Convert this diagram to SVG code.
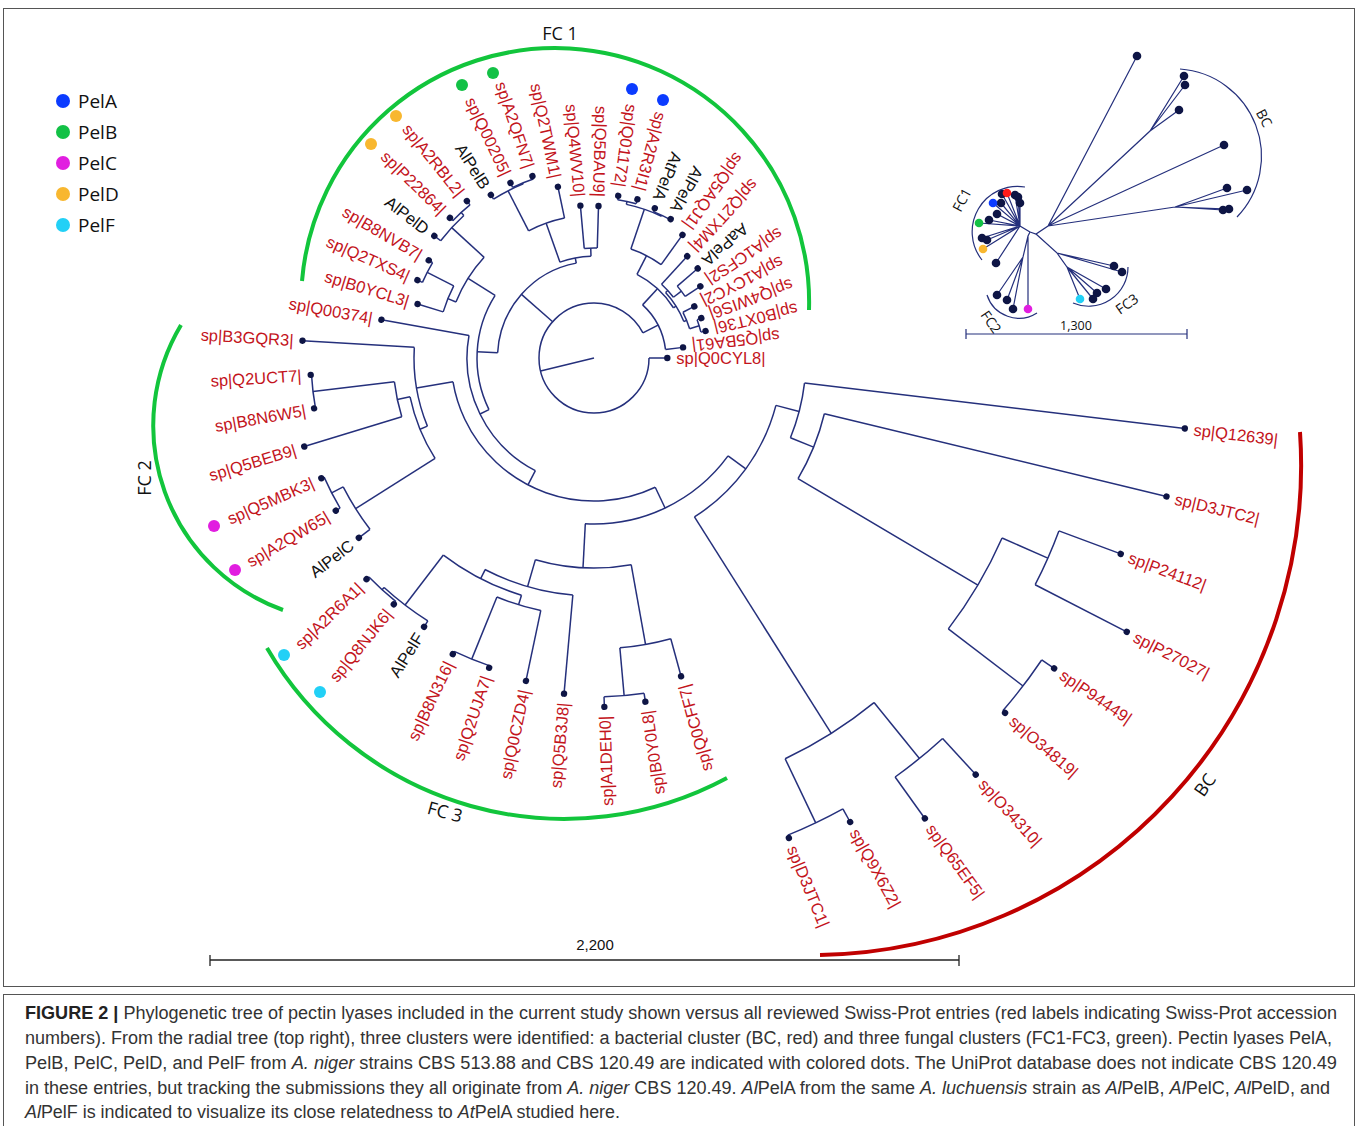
<svg xmlns="http://www.w3.org/2000/svg" width="1358" height="1126" viewBox="0 0 1358 1126">
<style>
.c line,.c circle{stroke:#25307c;stroke-width:1.5;fill:none}
.d{fill:#0e1545}
.t{font-family:"Liberation Sans",Arial,sans-serif;font-size:16.5px;fill:#c3141c}
.k{fill:#111}
.e{text-anchor:end}
.lg{font-family:"Open Sans","Liberation Sans",sans-serif;font-size:19px;fill:#111}
.fc{font-family:"Open Sans","Liberation Sans",sans-serif;font-size:18px;fill:#111;text-anchor:middle}
.ins path{stroke:#25307c;stroke-width:1.2;fill:none}
.cap{font-family:"Liberation Sans",Arial,sans-serif;font-size:17.6px;fill:#333}
</style>
<rect width="1358" height="1126" fill="#fff"/>
<rect x="3.5" y="8.5" width="1351" height="978" fill="none" stroke="#555"/>
<rect x="3.5" y="994.5" width="1351" height="140" fill="none" stroke="#555"/>

<g id="legend">
<circle cx="63" cy="101" r="7" fill="#0b3bff"/><text class="lg" x="78" y="108">PelA</text>
<circle cx="63" cy="132" r="7" fill="#13c146"/><text class="lg" x="78" y="139">PelB</text>
<circle cx="63" cy="163" r="7" fill="#e11ee0"/><text class="lg" x="78" y="170">PelC</text>
<circle cx="63" cy="194" r="7" fill="#f8b72f"/><text class="lg" x="78" y="201">PelD</text>
<circle cx="63" cy="225" r="7" fill="#22d0f6"/><text class="lg" x="78" y="232">PelF</text>
</g>

<g id="clusters" fill="none" stroke-width="4">
<path d="M302 281 A254 254 0 0 1 809 310" stroke="#12c53c"/>
<path d="M181 325 A196 196 0 0 0 283 610" stroke="#12c53c"/>
<path d="M267 648 A344 344 0 0 0 727 778" stroke="#12c53c"/>
<path d="M1300 432 A490 490 0 0 1 820 955" stroke="#c00000"/>
</g>
<text class="fc" x="560" y="40">FC 1</text>
<text class="fc" transform="translate(145,478) rotate(-90)" dy=".35em">FC 2</text>
<text class="fc" transform="translate(445,812) rotate(15)" dy=".35em">FC 3</text>
<text class="fc" transform="translate(1205,785) rotate(-55)" dy=".35em">BC</text>

<g id="connectors" class="c" transform="translate(594,358)">
<circle r="55" pathLength="360" stroke-dasharray="332.8 400"/>
<circle r="72" pathLength="360" stroke-dasharray="40.75 400" transform="rotate(312.45)"/>
<circle r="94" pathLength="360" stroke-dasharray="30.5 400" transform="rotate(297.2)"/>
<circle r="115" pathLength="360" stroke-dasharray="17 400" transform="rotate(288.7)"/>
<circle r="157" pathLength="360" stroke-dasharray="13.6 400" transform="rotate(281.9)"/>
<circle r="160" pathLength="360" stroke-dasharray="6.8 400" transform="rotate(278.5)"/>
<circle r="158" pathLength="360" stroke-dasharray="6.8 400" transform="rotate(292.1)"/>
<circle r="97" pathLength="360" stroke-dasharray="20.35 400" transform="rotate(317.55)"/>
<circle r="100" pathLength="360" stroke-dasharray="10.1 400" transform="rotate(312.5)"/>
<circle r="110" pathLength="360" stroke-dasharray="6.8 400" transform="rotate(319.2)"/>
<circle r="100" pathLength="360" stroke-dasharray="10.2 400" transform="rotate(332.8)"/>
<circle r="110" pathLength="360" stroke-dasharray="6.8 400" transform="rotate(339.6)"/>
<circle r="96.5" pathLength="360" stroke-dasharray="76.3 400" transform="rotate(183.1)"/>
<circle r="117" pathLength="360" stroke-dasharray="58.45 400" transform="rotate(153.85)"/>
<circle r="127" pathLength="360" stroke-dasharray="72.7 400" transform="rotate(117.5)"/>
<circle r="143" pathLength="360" stroke-dasharray="105.75 400" transform="rotate(64.65)"/>
<circle r="166" pathLength="360" stroke-dasharray="56.95 400" transform="rotate(36.15)"/>
<circle r="188" pathLength="360" stroke-dasharray="43.1 400" transform="rotate(14.6)"/>
<circle r="212" pathLength="360" stroke-dasharray="15.3 400" transform="rotate(6.8)"/>
<circle r="237" pathLength="360" stroke-dasharray="17 400" transform="rotate(13.6)"/>
<circle r="446" pathLength="360" stroke-dasharray="13.6 400" transform="rotate(23.8)"/>
<circle r="496" pathLength="360" stroke-dasharray="6.8 400" transform="rotate(20.4)"/>
<circle r="540" pathLength="360" stroke-dasharray="6.8 400" transform="rotate(34)"/>
<circle r="444" pathLength="360" stroke-dasharray="13.6 400" transform="rotate(50.9)"/>
<circle r="516" pathLength="360" stroke-dasharray="6.8 400" transform="rotate(47.5)"/>
<circle r="515" pathLength="360" stroke-dasharray="6.8 400" transform="rotate(61.1)"/>
<circle r="210" pathLength="360" stroke-dasharray="26.4 400" transform="rotate(79.8)"/>
<circle r="291" pathLength="360" stroke-dasharray="10.2 400" transform="rotate(74.7)"/>
<circle r="339" pathLength="360" stroke-dasharray="6.8 400" transform="rotate(81.5)"/>
<circle r="238" pathLength="360" stroke-dasharray="22.2 400" transform="rotate(95.1)"/>
<circle r="248" pathLength="360" stroke-dasharray="20.4 400" transform="rotate(107)"/>
<circle r="258" pathLength="360" stroke-dasharray="10.2 400" transform="rotate(101.9)"/>
<circle r="325" pathLength="360" stroke-dasharray="6.8 400" transform="rotate(108.7)"/>
<circle r="311" pathLength="360" stroke-dasharray="10.15 400" transform="rotate(122.3)"/>
<circle r="314" pathLength="360" stroke-dasharray="6.7 400" transform="rotate(129.1)"/>
<circle r="180" pathLength="360" stroke-dasharray="25.65 400" transform="rotate(157.75)"/>
<circle r="188" pathLength="360" stroke-dasharray="20.4 400" transform="rotate(147.7)"/>
<circle r="282" pathLength="360" stroke-dasharray="10.2 400" transform="rotate(142.6)"/>
<circle r="295" pathLength="360" stroke-dasharray="6.8 400" transform="rotate(149.4)"/>
<circle r="201" pathLength="360" stroke-dasharray="10.2 400" transform="rotate(163)"/>
<circle r="283" pathLength="360" stroke-dasharray="6.8 400" transform="rotate(169.8)"/>
<circle r="149" pathLength="360" stroke-dasharray="20.4 400" transform="rotate(202.1)"/>
<circle r="157.7" pathLength="360" stroke-dasharray="10.2 400" transform="rotate(197)"/>
<circle r="187.5" pathLength="360" stroke-dasharray="6.8 400" transform="rotate(203.8)"/>
<circle r="193" pathLength="360" stroke-dasharray="10.2 400" transform="rotate(217.4)"/>
<circle r="197" pathLength="360" stroke-dasharray="6.8 400" transform="rotate(224.2)"/>
<circle r="101.7" pathLength="360" stroke-dasharray="17.85 400" transform="rotate(250.45)"/>
<circle r="143" pathLength="360" stroke-dasharray="15.3 400" transform="rotate(242.8)"/>
<circle r="188" pathLength="360" stroke-dasharray="10.2 400" transform="rotate(237.7)"/>
<circle r="189" pathLength="360" stroke-dasharray="6.8 400" transform="rotate(244.5)"/>
<circle r="110" pathLength="360" stroke-dasharray="6.8 400" transform="rotate(264.9)"/>

<line x1="0" x2="55" transform="rotate(166.4)"/>
<line x1="55" x2="73.3"/>
<line x1="55" x2="96.5" transform="rotate(221.25)"/>
<line x1="55" x2="72" transform="rotate(332.8)"/>
<line x1="72" x2="94" transform="rotate(312.45)"/>
<line x1="72" x2="89.7" transform="rotate(353.2)"/>
<line x1="94" x2="115" transform="rotate(297.2)"/>
<line x1="94" x2="97" transform="rotate(327.7)"/>
<line x1="115" x2="157" transform="rotate(288.7)"/>
<line x1="115" x2="151.6" transform="rotate(305.7)"/>
<line x1="157" x2="160" transform="rotate(281.9)"/>
<line x1="157" x2="158" transform="rotate(295.5)"/>
<line x1="160" x2="164" transform="rotate(278.5)"/>
<line x1="160" x2="164.5" transform="rotate(285.3)"/>
<line x1="158" x2="161.6" transform="rotate(292.1)"/>
<line x1="158" x2="158.6" transform="rotate(298.9)"/>
<line x1="97" x2="100" transform="rotate(317.55)"/>
<line x1="97" x2="100" transform="rotate(337.9)"/>
<line x1="100" x2="138" transform="rotate(312.5)"/>
<line x1="100" x2="110" transform="rotate(322.6)"/>
<line x1="110" x2="137" transform="rotate(319.2)"/>
<line x1="110" x2="128.3" transform="rotate(326)"/>
<line x1="100" x2="112.8" transform="rotate(332.8)"/>
<line x1="100" x2="110" transform="rotate(343)"/>
<line x1="110" x2="114.5" transform="rotate(339.6)"/>
<line x1="110" x2="114.8" transform="rotate(346.4)"/>
<line x1="96.5" x2="117" transform="rotate(183.1)"/>
<line x1="96.5" x2="101.7" transform="rotate(259.4)"/>
<line x1="117" x2="127" transform="rotate(153.85)"/>
<line x1="117" x2="149" transform="rotate(212.3)"/>
<line x1="127" x2="143" transform="rotate(117.5)"/>
<line x1="127" x2="216" transform="rotate(190.2)"/>
<line x1="143" x2="166" transform="rotate(64.65)"/>
<line x1="143" x2="180" transform="rotate(170.4)"/>
<line x1="166" x2="188" transform="rotate(36.15)"/>
<line x1="166" x2="210" transform="rotate(93)"/>
<line x1="188" x2="212" transform="rotate(14.6)"/>
<line x1="188" x2="444" transform="rotate(57.7)"/>
<line x1="212" x2="595" transform="rotate(6.8)"/>
<line x1="212" x2="237" transform="rotate(22.1)"/>
<line x1="237" x2="589" transform="rotate(13.6)"/>
<line x1="237" x2="446" transform="rotate(30.6)"/>
<line x1="446" x2="496" transform="rotate(23.8)"/>
<line x1="446" x2="540" transform="rotate(37.4)"/>
<line x1="496" x2="562" transform="rotate(20.4)"/>
<line x1="496" x2="599" transform="rotate(27.2)"/>
<line x1="540" x2="555" transform="rotate(34)"/>
<line x1="540" x2="543" transform="rotate(40.8)"/>
<line x1="444" x2="516" transform="rotate(50.9)"/>
<line x1="444" x2="515" transform="rotate(64.5)"/>
<line x1="516" x2="565" transform="rotate(47.5)"/>
<line x1="516" x2="567" transform="rotate(54.3)"/>
<line x1="515" x2="530" transform="rotate(61.1)"/>
<line x1="515" x2="518" transform="rotate(67.9)"/>
<line x1="210" x2="291" transform="rotate(79.8)"/>
<line x1="210" x2="238" transform="rotate(106.2)"/>
<line x1="291" x2="330" transform="rotate(74.7)"/>
<line x1="291" x2="339" transform="rotate(84.9)"/>
<line x1="339" x2="347.5" transform="rotate(81.5)"/>
<line x1="339" x2="349" transform="rotate(88.3)"/>
<line x1="238" x2="337" transform="rotate(95.1)"/>
<line x1="238" x2="248" transform="rotate(117.2)"/>
<line x1="248" x2="258" transform="rotate(107)"/>
<line x1="248" x2="311" transform="rotate(127.4)"/>
<line x1="258" x2="330" transform="rotate(101.9)"/>
<line x1="258" x2="325" transform="rotate(112.1)"/>
<line x1="325" x2="327" transform="rotate(108.7)"/>
<line x1="325" x2="328" transform="rotate(115.5)"/>
<line x1="311" x2="318" transform="rotate(122.3)"/>
<line x1="311" x2="314" transform="rotate(132.45)"/>
<line x1="314" x2="317.4" transform="rotate(129.1)"/>
<line x1="314" x2="317.3" transform="rotate(135.8)"/>
<line x1="180" x2="188" transform="rotate(157.75)"/>
<line x1="180" x2="292" transform="rotate(183.4)"/>
<line x1="188" x2="282" transform="rotate(147.7)"/>
<line x1="188" x2="201" transform="rotate(168.1)"/>
<line x1="282" x2="296" transform="rotate(142.6)"/>
<line x1="282" x2="295" transform="rotate(152.8)"/>
<line x1="295" x2="300" transform="rotate(149.4)"/>
<line x1="295" x2="298" transform="rotate(156.2)"/>
<line x1="201" x2="303" transform="rotate(163)"/>
<line x1="201" x2="283" transform="rotate(173.2)"/>
<line x1="283" x2="284.4" transform="rotate(169.8)"/>
<line x1="283" x2="283.8" transform="rotate(176.6)"/>
<line x1="149" x2="157.7" transform="rotate(202.1)"/>
<line x1="149" x2="193" transform="rotate(222.5)"/>
<line x1="157.7" x2="184.5" transform="rotate(197)"/>
<line x1="157.7" x2="187.5" transform="rotate(207.2)"/>
<line x1="187.5" x2="193" transform="rotate(203.8)"/>
<line x1="187.5" x2="192" transform="rotate(210.6)"/>
<line x1="193" x2="201" transform="rotate(217.4)"/>
<line x1="193" x2="197" transform="rotate(227.6)"/>
<line x1="197" x2="201" transform="rotate(224.2)"/>
<line x1="197" x2="202" transform="rotate(231)"/>
<line x1="101.7" x2="143" transform="rotate(250.45)"/>
<line x1="101.7" x2="110" transform="rotate(268.3)"/>
<line x1="143" x2="188" transform="rotate(242.8)"/>
<line x1="143" x2="175" transform="rotate(258.1)"/>
<line x1="188" x2="193" transform="rotate(237.7)"/>
<line x1="188" x2="189" transform="rotate(247.9)"/>
<line x1="189" x2="194" transform="rotate(244.5)"/>
<line x1="189" x2="192" transform="rotate(251.3)"/>
<line x1="110" x2="153" transform="rotate(264.9)"/>
<line x1="110" x2="152" transform="rotate(271.7)"/>
</g>

<g id="leaves" transform="translate(594,358)">
<g id="n-Q12639" transform="rotate(6.8)"><circle class="d" cx="595" r="3.2"/><text class="t" x="604" dy=".36em">sp|Q12639|</text></g>
<g id="n-D3JTC2" transform="rotate(13.6)"><circle class="d" cx="589" r="3.2"/><text class="t" x="598" dy=".36em">sp|D3JTC2|</text></g>
<g id="n-P24112" transform="rotate(20.4)"><circle class="d" cx="562" r="3.2"/><text class="t" x="571" dy=".36em">sp|P24112|</text></g>
<g id="n-P27027" transform="rotate(27.2)"><circle class="d" cx="599" r="3.2"/><text class="t" x="608" dy=".36em">sp|P27027|</text></g>
<g id="n-P94449" transform="rotate(34)"><circle class="d" cx="555" r="3.2"/><text class="t" x="564" dy=".36em">sp|P94449|</text></g>
<g id="n-O34819" transform="rotate(40.8)"><circle class="d" cx="543" r="3.2"/><text class="t" x="552" dy=".36em">sp|O34819|</text></g>
<g id="n-O34310" transform="rotate(47.5)"><circle class="d" cx="565" r="3.2"/><text class="t" x="574" dy=".36em">sp|O34310|</text></g>
<g id="n-Q65EF5" transform="rotate(54.3)"><circle class="d" cx="567" r="3.2"/><text class="t" x="576" dy=".36em">sp|Q65EF5|</text></g>
<g id="n-Q9X6Z2" transform="rotate(61.1)"><circle class="d" cx="530" r="3.2"/><text class="t" x="539" dy=".36em">sp|Q9X6Z2|</text></g>
<g id="n-D3JTC1" transform="rotate(67.9)"><circle class="d" cx="518" r="3.2"/><text class="t" x="527" dy=".36em">sp|D3JTC1|</text></g>
<g id="n-Q0CYL8"><circle class="d" cx="73.3" r="3.2"/><text class="t" x="82.3" dy=".36em">sp|Q0CYL8|</text></g>

<g id="n-Q0CFF7"><circle class="d" cx="330" r="3.2" transform="rotate(74.7)"/><text class="t e" x="-339" dy=".36em" transform="rotate(-105.3)">sp|Q0CFF7|</text></g>
<g id="n-B0Y0L8"><circle class="d" cx="347.5" r="3.2" transform="rotate(81.5)"/><text class="t e" x="-356.5" dy=".36em" transform="rotate(-98.5)">sp|B0Y0L8|</text></g>
<g id="n-A1DEH0"><circle class="d" cx="349" r="3.2" transform="rotate(88.3)"/><text class="t e" x="-358" dy=".36em" transform="rotate(-91.7)">sp|A1DEH0|</text></g>
<g id="n-Q5B3J8"><circle class="d" cx="337" r="3.2" transform="rotate(95.1)"/><text class="t e" x="-346" dy=".36em" transform="rotate(-84.9)">sp|Q5B3J8|</text></g>
<g id="n-Q0CZD4"><circle class="d" cx="330" r="3.2" transform="rotate(101.9)"/><text class="t e" x="-339" dy=".36em" transform="rotate(-78.1)">sp|Q0CZD4|</text></g>
<g id="n-Q2UJA7"><circle class="d" cx="327" r="3.2" transform="rotate(108.7)"/><text class="t e" x="-336" dy=".36em" transform="rotate(-71.3)">sp|Q2UJA7|</text></g>
<g id="n-B8N316"><circle class="d" cx="328" r="3.2" transform="rotate(115.5)"/><text class="t e" x="-337" dy=".36em" transform="rotate(-64.5)">sp|B8N316|</text></g>
<g id="n-AlPelF"><circle class="d" cx="318" r="3.2" transform="rotate(122.3)"/><text class="t e k" x="-327" dy=".36em" transform="rotate(-57.7)">AlPelF</text></g>
<g id="n-Q8NJK6"><circle class="d" cx="317.4" r="3.2" transform="rotate(129.1)"/><text class="t e" x="-326" dy=".36em" transform="rotate(-50.9)">sp|Q8NJK6|</text></g>
<g id="n-A2R6A1"><circle class="d" cx="317.3" r="3.2" transform="rotate(135.8)"/><text class="t e" x="-326" dy=".36em" transform="rotate(-44.2)">sp|A2R6A1|</text></g>
<g id="n-AlPelC"><circle class="d" cx="296" r="3.2" transform="rotate(142.6)"/><text class="t e k" x="-305" dy=".36em" transform="rotate(-37.4)">AlPelC</text></g>
<g id="n-A2QW65"><circle class="d" cx="300" r="3.2" transform="rotate(149.4)"/><text class="t e" x="-309" dy=".36em" transform="rotate(-30.6)">sp|A2QW65|</text></g>
<g id="n-Q5MBK3"><circle class="d" cx="298" r="3.2" transform="rotate(156.2)"/><text class="t e" x="-307" dy=".36em" transform="rotate(-23.8)">sp|Q5MBK3|</text></g>
<g id="n-Q5BEB9"><circle class="d" cx="303" r="3.2" transform="rotate(163)"/><text class="t e" x="-312" dy=".36em" transform="rotate(-17)">sp|Q5BEB9|</text></g>
<g id="n-B8N6W5"><circle class="d" cx="284.4" r="3.2" transform="rotate(169.8)"/><text class="t e" x="-293" dy=".36em" transform="rotate(-10.2)">sp|B8N6W5|</text></g>
<g id="n-Q2UCT7"><circle class="d" cx="283.8" r="3.2" transform="rotate(176.6)"/><text class="t e" x="-293" dy=".36em" transform="rotate(-3.4)">sp|Q2UCT7|</text></g>
<g id="n-B3GQR3"><circle class="d" cx="292" r="3.2" transform="rotate(183.4)"/><text class="t e" x="-301" dy=".36em" transform="rotate(3.4)">sp|B3GQR3|</text></g>
<g id="n-Q00374"><circle class="d" cx="216" r="3.2" transform="rotate(190.2)"/><text class="t e" x="-225" dy=".36em" transform="rotate(10.2)">sp|Q00374|</text></g>
<g id="n-B0YCL3"><circle class="d" cx="184.5" r="3.2" transform="rotate(197)"/><text class="t e" x="-193.5" dy=".36em" transform="rotate(17)">sp|B0YCL3|</text></g>
<g id="n-Q2TXS4"><circle class="d" cx="193" r="3.2" transform="rotate(203.8)"/><text class="t e" x="-202" dy=".36em" transform="rotate(23.8)">sp|Q2TXS4|</text></g>
<g id="n-B8NVB7"><circle class="d" cx="192" r="3.2" transform="rotate(210.6)"/><text class="t e" x="-201" dy=".36em" transform="rotate(30.6)">sp|B8NVB7|</text></g>
<g id="n-AlPelD"><circle class="d" cx="201" r="3.2" transform="rotate(217.4)"/><text class="t e k" x="-210" dy=".36em" transform="rotate(37.4)">AlPelD</text></g>
<g id="n-P22864"><circle class="d" cx="201" r="3.2" transform="rotate(224.2)"/><text class="t e" x="-210" dy=".36em" transform="rotate(44.2)">sp|P22864|</text></g>
<g id="n-A2RBL2"><circle class="d" cx="202" r="3.2" transform="rotate(231)"/><text class="t e" x="-211" dy=".36em" transform="rotate(51)">sp|A2RBL2|</text></g>
<g id="n-AlPelB"><circle class="d" cx="193" r="3.2" transform="rotate(237.7)"/><text class="t e k" x="-202" dy=".36em" transform="rotate(57.7)">AlPelB</text></g>
<g id="n-Q00205"><circle class="d" cx="194" r="3.2" transform="rotate(244.5)"/><text class="t e" x="-203" dy=".36em" transform="rotate(64.5)">sp|Q00205|</text></g>
<g id="n-A2QFN7"><circle class="d" cx="192" r="3.2" transform="rotate(251.3)"/><text class="t e" x="-201" dy=".36em" transform="rotate(71.3)">sp|A2QFN7|</text></g>
<g id="n-Q2TWM1"><circle class="d" cx="175" r="3.2" transform="rotate(258.1)"/><text class="t e" x="-184" dy=".36em" transform="rotate(78.1)">sp|Q2TWM1|</text></g>
<g id="n-Q4WV10"><circle class="d" cx="153" r="3.2" transform="rotate(264.9)"/><text class="t e" x="-162" dy=".36em" transform="rotate(84.9)">sp|Q4WV10|</text></g>
<g id="n-Q5BAU9"><circle class="d" cx="152" r="3.2" transform="rotate(271.7)"/><text class="t e" x="-161" dy=".36em" transform="rotate(91.7)">sp|Q5BAU9|</text></g>
<g id="n-Q01172"><circle class="d" cx="164" r="3.2" transform="rotate(278.5)"/><text class="t e" x="-173" dy=".36em" transform="rotate(98.5)">sp|Q01172|</text></g>
<g id="n-A2R3I1"><circle class="d" cx="164.5" r="3.2" transform="rotate(285.3)"/><text class="t e" x="-173.5" dy=".36em" transform="rotate(105.3)">sp|A2R3I1|</text></g>
<g id="n-AtPelA"><circle class="d" cx="161.6" r="3.2" transform="rotate(292.1)"/><text class="t e k" x="-170.6" dy=".36em" transform="rotate(112.1)">AtPelA</text></g>
<g id="n-AlPelA"><circle class="d" cx="158.6" r="3.2" transform="rotate(298.9)"/><text class="t e k" x="-167.6" dy=".36em" transform="rotate(118.9)">AlPelA</text></g>
<g id="n-Q5AQJ1"><circle class="d" cx="151.6" r="3.2" transform="rotate(305.7)"/><text class="t e" x="-160.6" dy=".36em" transform="rotate(125.7)">sp|Q5AQJ1|</text></g>
<g id="n-Q2TXM4"><circle class="d" cx="138" r="3.2" transform="rotate(312.5)"/><text class="t e" x="-147" dy=".36em" transform="rotate(132.5)">sp|Q2TXM4|</text></g>
<g id="n-AaPelA"><circle class="d" cx="137" r="3.2" transform="rotate(319.2)"/><text class="t e k" x="-146" dy=".36em" transform="rotate(139.2)">AaPelA</text></g>
<g id="n-A1CFS2"><circle class="d" cx="128.3" r="3.2" transform="rotate(326)"/><text class="t e" x="-137.3" dy=".36em" transform="rotate(146)">sp|A1CFS2|</text></g>
<g id="n-A1CYC2"><circle class="d" cx="112.8" r="3.2" transform="rotate(332.8)"/><text class="t e" x="-121.8" dy=".36em" transform="rotate(152.8)">sp|A1CYC2|</text></g>
<g id="n-Q4WIS6"><circle class="d" cx="114.5" r="3.2" transform="rotate(339.6)"/><text class="t e" x="-123.5" dy=".36em" transform="rotate(159.6)">sp|Q4WIS6|</text></g>
<g id="n-B0XT36"><circle class="d" cx="114.8" r="3.2" transform="rotate(346.4)"/><text class="t e" x="-123.8" dy=".36em" transform="rotate(166.4)">sp|B0XT36|</text></g>
<g id="n-Q5BA61"><circle class="d" cx="89.7" r="3.2" transform="rotate(353.2)"/><text class="t e" x="-98.7" dy=".36em" transform="rotate(173.2)">sp|Q5BA61|</text></g>
</g>

<g id="marks">
<circle cx="632" cy="89" r="6" fill="#0b3bff"/><circle cx="663" cy="100" r="6" fill="#0b3bff"/>
<circle cx="462" cy="85" r="6" fill="#13c146"/><circle cx="493" cy="73" r="6" fill="#13c146"/>
<circle cx="371" cy="144" r="6" fill="#f8b72f"/><circle cx="396" cy="116" r="6" fill="#f8b72f"/>
<circle cx="214" cy="526" r="6" fill="#e11ee0"/><circle cx="235" cy="570" r="6" fill="#e11ee0"/>
<circle cx="284" cy="655" r="6" fill="#22d0f6"/><circle cx="320" cy="692" r="6" fill="#22d0f6"/>
</g>

<g id="scale" stroke="#222" stroke-width="1.3">
<line x1="210" y1="960" x2="959" y2="960"/><line x1="210" y1="955" x2="210" y2="966"/><line x1="959" y1="955" x2="959" y2="966"/>
</g>
<text x="595" y="950" font-family="Liberation Sans,Arial,sans-serif" font-size="15" text-anchor="middle" fill="#111">2,200</text>

<g id="inset" class="ins">
<path d="M1030 232 L1036 234 L1048 226 L1137 56 M1048 226 L1150 131 L1184 76 M1150 131 L1185 85 M1150 131 L1179 110 M1048 226 L1224 145 M1048 226 L1175 207 L1227 188 M1175 207 L1247 190 M1175 207 L1223 210 M1175 207 L1229 209"/>
<path d="M1030 232 L1020 226 L1002 194 M1020 226 L1007 193 M1020 226 L1015 195 M1020 226 L1018 197 M1020 226 L1020 203 M1020 226 L1001 203 M1020 226 L993 203 M1020 226 L997 214 M1020 226 L989 220 M1020 226 L979 223 M1020 226 L982 238 M1020 226 L987 240 M1020 226 L983 249 M1020 226 L996 263"/>
<path d="M1030 232 L1028 236 L1023 257 L997 295 M1023 257 L1007 300 M1023 257 L1013 309 M1028 236 L1028 309"/>
<path d="M1036 234 L1057 253 L1114 266 M1057 253 L1122 272 M1057 253 L1067 267 L1106 289 M1067 267 L1097 293 M1067 267 L1093 299 M1067 267 L1080 299"/>
<g fill="#0e1545">
<circle cx="1137" cy="56" r="4.3"/><circle cx="1184" cy="76" r="4.3"/><circle cx="1185" cy="85" r="4.3"/><circle cx="1179" cy="110" r="4.3"/><circle cx="1224" cy="145" r="4.3"/><circle cx="1227" cy="188" r="4.3"/><circle cx="1247" cy="190" r="4.3"/><circle cx="1223" cy="210" r="4.3"/><circle cx="1229" cy="209" r="4.3"/>
<circle cx="1002" cy="194" r="4.3"/><circle cx="1015" cy="195" r="4.3"/><circle cx="1018" cy="197" r="4.3"/><circle cx="1020" cy="203" r="4.3"/><circle cx="1001" cy="203" r="4.3"/><circle cx="997" cy="214" r="4.3"/><circle cx="989" cy="220" r="4.3"/><circle cx="982" cy="238" r="4.3"/><circle cx="987" cy="240" r="4.3"/><circle cx="996" cy="263" r="4.3"/>
<circle cx="997" cy="295" r="4.3"/><circle cx="1007" cy="300" r="4.3"/><circle cx="1013" cy="309" r="4.3"/>
<circle cx="1114" cy="266" r="4.3"/><circle cx="1122" cy="272" r="4.3"/><circle cx="1106" cy="289" r="4.3"/><circle cx="1097" cy="293" r="4.3"/><circle cx="1093" cy="299" r="4.3"/>
</g>
<circle cx="1007" cy="193" r="4.3" fill="#ff1a1a"/><circle cx="993" cy="203" r="4.3" fill="#0b3bff"/><circle cx="979" cy="223" r="4.3" fill="#13c146"/><circle cx="983" cy="249" r="4.3" fill="#f8b72f"/><circle cx="1028" cy="309" r="4.3" fill="#e11ee0"/><circle cx="1080" cy="299" r="4.3" fill="#22d0f6"/>
<path d="M1180 69 A87.5 87.5 0 0 1 1237 217" stroke="#b00000" stroke-width="3" fill="none"/>
<path d="M1025 187 A45.4 45.4 0 0 0 982 260" stroke="#12a53a" stroke-width="3" fill="none"/>
<path d="M987 295 A33.6 33.6 0 0 0 1037 313" stroke="#12a53a" stroke-width="3" fill="none"/>
<path d="M1128 267 A39.3 39.3 0 0 1 1073 303" stroke="#12a53a" stroke-width="3" fill="none"/>
<g font-family="Open Sans,Liberation Sans,sans-serif" font-size="14" fill="#111" text-anchor="middle">
<text transform="translate(1264,118) rotate(62)" dy=".35em">BC</text>
<text transform="translate(962,200) rotate(-62)" dy=".35em">FC1</text>
<text transform="translate(991,322) rotate(55)" dy=".35em">FC2</text>
<text transform="translate(1127,304) rotate(-35)" dy=".35em">FC3</text>
<text x="1076" y="330" font-size="12.5">1,300</text>
</g>
<path d="M966 334 H1187 M966 329 V339 M1187 329 V339" stroke="#222" stroke-width="1.2"/>
</g>

<g id="caption" class="cap">
<text x="25" y="1019" textLength="1312" lengthAdjust="spacingAndGlyphs"><tspan font-weight="bold" fill="#222">FIGURE 2 |</tspan> Phylogenetic tree of pectin lyases included in the current study shown versus all reviewed Swiss-Prot entries (red labels indicating Swiss-Prot accession</text>
<text x="25" y="1044" textLength="1307" lengthAdjust="spacingAndGlyphs">numbers). From the radial tree (top right), three clusters were identified: a bacterial cluster (BC, red) and three fungal clusters (FC1-FC3, green). Pectin lyases PelA,</text>
<text x="25" y="1069" textLength="1312" lengthAdjust="spacingAndGlyphs">PelB, PelC, PelD, and PelF from <tspan font-style="italic">A. niger</tspan> strains CBS 513.88 and CBS 120.49 are indicated with colored dots. The UniProt database does not indicate CBS 120.49</text>
<text x="25" y="1094" textLength="1305" lengthAdjust="spacingAndGlyphs">in these entries, but tracking the submissions they all originate from <tspan font-style="italic">A. niger</tspan> CBS 120.49. <tspan font-style="italic">Al</tspan>PelA from the same <tspan font-style="italic">A. luchuensis</tspan> strain as <tspan font-style="italic">Al</tspan>PelB, <tspan font-style="italic">Al</tspan>PelC, <tspan font-style="italic">Al</tspan>PelD, and</text>
<text x="25" y="1118" textLength="595" lengthAdjust="spacingAndGlyphs"><tspan font-style="italic">Al</tspan>PelF is indicated to visualize its close relatedness to <tspan font-style="italic">At</tspan>PelA studied here.</text>
</g>
</svg>
